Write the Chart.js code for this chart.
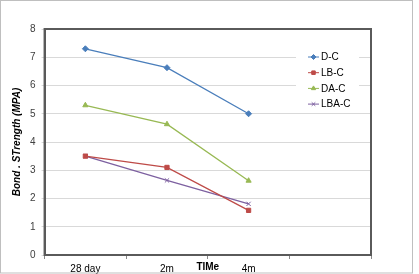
<!DOCTYPE html>
<html>
<head>
<meta charset="utf-8">
<script src="https://cdn.jsdelivr.net/npm/chart.js@4.4.0/dist/chart.umd.min.js"></script>
<style>
  html, body { margin: 0; padding: 0; background: #fff; }
  #wrap { width: 419px; height: 274px; position: relative; }
</style>
</head>
<body>
<div id="wrap"><canvas id="myChart" width="419" height="274"></canvas></div>
<script>
// categories on the x axis (last slot is empty in the original)
const times = ['28 day', '2m', '4m', ''];
const seriesNames = ['D-C', 'LB-C', 'DA-C', 'LBA-C'];
const dcValues = [7.3, 6.63, 5.0];
const lbcValues = [3.5, 3.1, 1.58];
const dacValues = [5.3, 4.63, 2.63];
const lbacValues = [3.5, 2.64, 1.81];
const yTicks = [0, 1, 2, 3, 4, 5, 6, 7, 8];

const colors = ['#4a7ebb', '#be4b48', '#98b954', '#7d60a0'];
const markers = ['rectRot', 'rect', 'triangle', 'crossRot'];
const allValues = [dcValues, lbcValues, dacValues, lbacValues];

const fontFam = '"Liberation Sans", Arial, sans-serif';

// frame, plot border, "TIMe" title and the in-plot legend
const extras = {
  id: 'extras',
  afterDraw(chart) {
    const ctx = chart.ctx;
    const a = chart.chartArea;
    ctx.save();
    // outer frame
    ctx.strokeStyle = '#bfbfbf';
    ctx.lineWidth = 1;
    ctx.strokeRect(0.5, 0.5, 412, 272.5);
    // plot border
    ctx.strokeStyle = '#5a5a5a';
    ctx.lineWidth = 2;
    ctx.strokeRect(a.left, a.top, a.right - a.left, a.bottom - a.top);

    // x axis title sits on the label row
    const xs = chart.scales.x;
    ctx.fillStyle = '#000';
    ctx.font = 'bold 10px ' + fontFam;
    ctx.textAlign = 'center';
    ctx.textBaseline = 'middle';
    ctx.fillText('TIMe', (xs.left + xs.right) / 2, 267);

    // legend
    ctx.fillStyle = '#fff';
    ctx.fillRect(296, 47, 63, 66);
    ctx.font = '10px ' + fontFam;
    ctx.textAlign = 'left';
    chart.data.datasets.forEach((ds, i) => {
      const y = 57 + i * 15.7;
      ctx.strokeStyle = ds.borderColor;
      ctx.lineWidth = 1;
      ctx.beginPath();
      ctx.moveTo(308, y);
      ctx.lineTo(319, y);
      ctx.stroke();
      ctx.fillStyle = ds.borderColor;
      Chart.helpers.drawPoint(ctx, {pointStyle: ds.pointStyle, radius: 2.5, rotation: 0, borderWidth: 1}, 313.5, y);
      ctx.fillStyle = '#000';
      ctx.fillText(ds.label, 321, y + 0.5);
    });
    ctx.restore();
  }
};

new Chart(document.getElementById('myChart'), {
  type: 'line',
  data: {
    labels: times,
    datasets: seriesNames.map((name, i) => ({
      label: name,
      data: allValues[i],
      borderColor: colors[i],
      backgroundColor: colors[i],
      pointStyle: markers[i],
      pointRadius: 3,
      pointBorderWidth: 1,
      borderWidth: 1.3,
      tension: 0
    }))
  },
  options: {
    responsive: false,
    animation: false,
    layout: { padding: { left: 11, top: 29, right: 48, bottom: -5 } },
    plugins: { legend: { display: false }, tooltip: { enabled: false } },
    scales: {
      x: {
        offset: true,
        grid: { offset: true, drawOnChartArea: false, drawTicks: true, tickLength: 4, color: '#888' },
        border: { display: true, color: '#5a5a5a', width: 2 },
        ticks: { color: '#000', font: { family: fontFam, size: 10 }, padding: 4, maxRotation: 0, autoSkip: false }
      },
      y: {
        min: 0,
        max: 8,
        afterBuildTicks(axis) { axis.ticks = yTicks.map(v => ({ value: v })); },
        grid: { color: '#d9d9d9', tickLength: 3 },
        border: { display: true, color: '#5a5a5a', width: 2 },
        ticks: { color: '#404040', font: { family: fontFam, size: 10 }, padding: 6 },
        title: {
          display: true,
          text: 'Bond . STrength (MPA)',
          color: '#000',
          font: { family: fontFam, size: 10, style: 'italic', weight: 'bold' },
          padding: { top: 0, bottom: 1 }
        }
      }
    }
  },
  plugins: [extras]
});
</script>
</body>
</html>
